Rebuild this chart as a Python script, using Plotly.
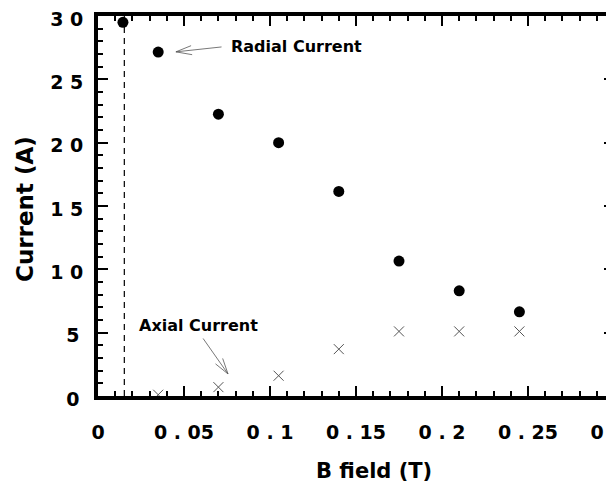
import math
import plotly.graph_objects as go

# ---------------- data ----------------
b_radial = [0.0145, 0.035, 0.07, 0.105, 0.14, 0.175, 0.21, 0.245]
i_radial = [29.5, 27.15, 22.25, 20.0, 16.15, 10.65, 8.3, 6.65]

b_axial = [0.035, 0.07, 0.105, 0.14, 0.175, 0.21, 0.245]
i_axial = [0.1, 0.7, 1.6, 3.7, 5.1, 5.1, 5.1]

b_cutoff = 0.0153

x_tickvals = [0, 0.05, 0.1, 0.15, 0.2, 0.25, 0.3]
x_ticktext = ["0", "0\u00a0.\u00a005", "0\u00a0.\u00a01", "0\u00a0.\u00a015",
              "0\u00a0.\u00a02", "0\u00a0.\u00a025", "0\u00a0.\u00a03"]
y_tickvals = [0, 5, 10, 15, 20, 25, 30]
y_ticktext = ["0\u2009", "5\u2009", "1\u00a00", "1\u00a05", "2\u00a00", "2\u00a05", "3\u00a00"]

# ---------------- layout constants ----------------
W, H = 614, 489
OFF = 8                      # page body margin seen in the screenshot
ML, MR, MT, MB = 90, 8, 8, 101
XR = [0, 0.3]
YR = [0, 30]
PW = W - ML - MR
PH = H - MT - MB
px_x = PW / (XR[1] - XR[0])
px_y = PH / (YR[1] - YR[0])


def paper_x(sx):
    return (sx - OFF - ML) / PW


def paper_y(sy):
    return (H - MB - (sy - OFF)) / PH


FONT = "DejaVu Sans"

fig = go.Figure()

fig.add_trace(go.Scatter(
    x=b_radial, y=i_radial, mode="markers", name="Radial Current",
    marker=dict(symbol="circle", size=11, color="black"),
    showlegend=False, cliponaxis=False,
))
fig.add_trace(go.Scatter(
    x=b_axial, y=i_axial, mode="markers", name="Axial Current",
    marker=dict(symbol="x-thin-open", size=10, color="#555555",
                line=dict(width=1, color="#555555")),
    showlegend=False, cliponaxis=False,
))
# empty trace so that the label-only overlay axes are drawn
fig.add_trace(go.Scatter(x=[], y=[], xaxis="x2", yaxis="y2", mode="markers",
                         showlegend=False, hoverinfo="skip"))

# dashed vertical line
fig.add_shape(type="line", xref="x", yref="paper", x0=b_cutoff, x1=b_cutoff,
              y0=0, y1=1, line=dict(color="black", width=1.2, dash="6px,5px"))

annotations = []


def add_label(text, x_left, y_mid, tail, tip):
    annotations.append(dict(
        x=x_left, y=y_mid, xref="x", yref="y", text=text, showarrow=False,
        xanchor="left", yanchor="middle",
        font=dict(family=FONT, size=16, color="black", weight="bold"),
    ))
    # shaft
    annotations.append(dict(
        x=tip[0], y=tip[1], xref="x", yref="y", ax=tail[0], ay=tail[1],
        axref="x", ayref="y", text="", showarrow=True, arrowhead=0,
        arrowwidth=0.8, arrowcolor="#555555",
    ))
    # open arrow head (two barbs)
    dx = (tail[0] - tip[0]) * px_x
    dy = -(tail[1] - tip[1]) * px_y
    ang = math.atan2(dy, dx)
    for s in (-1, 1):
        a = ang + s * math.radians(16)
        annotations.append(dict(
            x=tip[0], y=tip[1], xref="x", yref="y",
            ax=18 * math.cos(a), ay=18 * math.sin(a),
            text="", showarrow=True, arrowhead=0,
            arrowwidth=0.8, arrowcolor="#555555",
        ))


add_label("Radial Current", 0.0762, 27.6, (0.0727, 27.57), (0.0453, 27.17))
add_label("Axial Current", 0.0227, 5.6, (0.0605, 4.66), (0.0756, 1.74))

# axis titles
annotations.append(dict(
    x=paper_x(374), y=paper_y(471),
    xref="paper", yref="paper", text="B field (T)", showarrow=False,
    xanchor="center", yanchor="middle",
    font=dict(family=FONT, size=21, color="black", weight="bold"),
))
annotations.append(dict(
    x=paper_x(25), y=paper_y(209),
    xref="paper", yref="paper", text="Current (A)", showarrow=False,
    xanchor="center", yanchor="middle", textangle=-90,
    font=dict(family=FONT, size=23, color="black", weight="bold"),
))

tickfont = dict(family=FONT, size=19, color="black", weight="bold")

# main axes: frame + inside ticks on all four sides
frame = dict(
    showline=True, linewidth=3.5, linecolor="black", mirror="allticks",
    ticks="inside", ticklen=10, tickwidth=1.5, tickcolor="black",
    showgrid=False, zeroline=False, automargin=False, showticklabels=False,
    tickmode="array",
)
# overlay axes: only the tick labels, pushed away by invisible outside ticks
labels = dict(
    showline=False, ticks="outside", tickcolor="rgba(0,0,0,0)", tickwidth=1,
    showgrid=False, zeroline=False, automargin=False, showticklabels=True,
    tickmode="array", tickfont=tickfont, ticklabeloverflow="allow",
)

fig.update_layout(
    width=W, height=H,
    margin=dict(l=ML, r=MR, t=MT, b=MB, autoexpand=False),
    paper_bgcolor="white", plot_bgcolor="white",
    annotations=annotations,
    xaxis=dict(range=XR, tickvals=x_tickvals,
               minor=dict(tickmode="linear", tick0=0, dtick=0.01, ticks="inside",
                          ticklen=5, tickwidth=1.5, tickcolor="black", showgrid=False),
               **frame),
    yaxis=dict(range=YR, tickvals=y_tickvals,
               minor=dict(tickmode="linear", tick0=0, dtick=1, ticks="inside",
                          ticklen=5, tickwidth=1.5, tickcolor="black", showgrid=False),
               **frame),
    xaxis2=dict(overlaying="x", anchor="y", side="bottom", range=XR,
                tickvals=x_tickvals, ticktext=x_ticktext, ticklen=19, **labels),
    yaxis2=dict(overlaying="y", anchor="x", side="left", range=YR,
                tickvals=y_tickvals, ticktext=y_ticktext, ticklen=10,
                ticklabelshift=3, **labels),
)

fig.write_html("out.html")
